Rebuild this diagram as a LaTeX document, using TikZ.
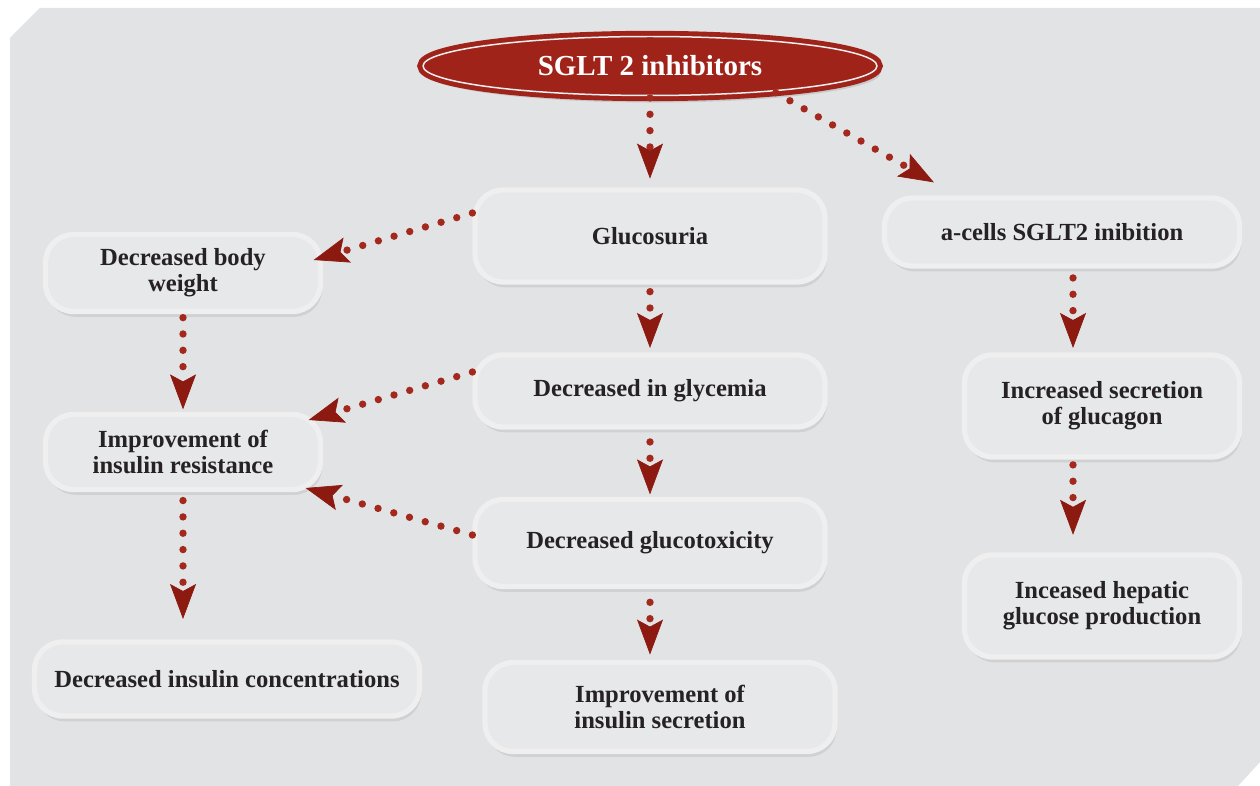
\documentclass[tikz,border=0pt]{standalone}
\usepackage{fontspec}
\setmainfont{Liberation Serif}
\usetikzlibrary{shapes.geometric,shadows,arrows.meta}

\definecolor{panelgray}{HTML}{E2E3E5}
\definecolor{boxgray}{HTML}{E7E8EA}
\definecolor{ringgray}{HTML}{EFEFF0}
\definecolor{sgltred}{HTML}{A0231A}
\definecolor{dotred}{HTML}{A3281D}
\definecolor{tipred}{HTML}{8C1A11}
\definecolor{textgray}{HTML}{262223}

\begin{document}
\begin{tikzpicture}[x=0.02cm, y=-0.02cm,
    stepbox/.style={rectangle, rounded corners=0.56cm, fill=boxgray, draw=ringgray,
        line width=3pt, inner sep=0pt, align=center, text=textgray,
        font=\bfseries\fontsize{14}{15}\selectfont,
        drop shadow={shadow xshift=1pt, shadow yshift=-3pt, opacity=0.18}},
    sgltbox/.style={ellipse, fill=sgltred, draw=sgltred, double=ringgray,
        double distance=0.85pt, line width=2.8pt, inner sep=0pt, text=white,
        minimum width=9.08cm, minimum height=1.18cm,
        font=\bfseries\fontsize{16.5}{18}\selectfont,
        drop shadow={shadow xshift=2pt, shadow yshift=-4pt, opacity=0.25}},
    flow/.style={draw=dotred, line width=4.2pt, line cap=round,
        dash pattern=on 0pt off 9.3pt,
        -{Stealth[length=0.7cm, width=0.52cm, inset=0.14cm, line width=0.4pt, color=tipred]}}]

    % background panel
    \useasboundingbox (0,0) rectangle (1260,786);
    \fill[white] (0,0) rectangle (1260,786);
    \fill[panelgray] (10,38) -- (40,8) -- (1260,8) -- (1260,762) -- (1238,786) -- (10,786) -- cycle;

    \draw(650,66) node[sgltbox] (sglt) {SGLT 2 inhibitors};

    \draw(650,236) node[stepbox, minimum width=7cm, minimum height=1.84cm] (gluc) {Glucosuria};
    \draw(1062,232) node[stepbox, minimum width=7.1cm, minimum height=1.36cm] (acells) {a-cells SGLT2 inibition};
    \draw(183,273) node[stepbox, minimum width=5.5cm, minimum height=1.54cm] (dbw) {Decreased body\\weight};
    \draw(650,391) node[stepbox, minimum width=7cm, minimum height=1.44cm] (glyc) {Decreased in glycemia};
    \draw(1102,406) node[stepbox, minimum width=5.5cm, minimum height=2.04cm] (incsec) {Increased secretion\\of glucagon};
    \draw(183,452) node[stepbox, minimum width=5.5cm, minimum height=1.5cm] (insres) {Improvement of\\insulin resistance};
    \draw(650,543) node[stepbox, minimum width=7cm, minimum height=1.74cm] (gtox) {Decreased glucotoxicity};
    \draw(1102,606) node[stepbox, minimum width=5.5cm, minimum height=2.04cm] (hep) {Inceased hepatic\\glucose production};
    \draw(227,679) node[stepbox, minimum width=7.7cm, minimum height=1.48cm] (insconc) {Decreased insulin concentrations};
    \draw(660,707) node[stepbox, minimum width=7cm, minimum height=1.78cm] (inssec) {Improvement of\\insulin secretion};

    % dotted connectors
    \draw[flow, shorten >=5pt] (sglt.south) -- (gluc.north);
    \draw[flow] (sglt.-12) -- ([xshift=1.04cm, yshift=0.26cm]acells.north west);
    \draw[flow] ([yshift=0.46cm]gluc.west) -- ([xshift=-0.19cm, yshift=0.26cm]dbw.east);
    \draw[flow, shorten <=4pt, shorten >=2.5pt] (gluc.south) -- (glyc.north);
    \draw[flow] ([yshift=0.38cm]glyc.west) -- ([xshift=-0.29cm, yshift=0.64cm]insres.east);
    \draw[flow, shorten <=7pt, shorten >=1.4pt] (glyc.south) -- (gtox.north);
    \draw[flow] ([yshift=0.16cm]gtox.west) -- ([xshift=-0.35cm, yshift=-0.72cm]insres.east);
    \draw[flow, shorten <=7.5pt, shorten >=3pt] (gtox.south) -- ([xshift=-0.2cm]inssec.north);
    \draw[flow, shorten <=2pt, shorten >=1.4pt] (dbw.south) -- (insres.north);
    \draw[flow, shorten <=4.8pt, shorten >=11.6pt] (insres.south) -- ([xshift=-0.88cm]insconc.north);
    \draw[flow, shorten <=5.3pt, shorten >=2.5pt] ([xshift=0.22cm]acells.south) -- ([xshift=-0.58cm]incsec.north);
    \draw[flow, shorten <=3pt, shorten >=10pt] ([xshift=-0.58cm]incsec.south) -- ([xshift=-0.58cm]hep.north);

\end{tikzpicture}
\end{document}
